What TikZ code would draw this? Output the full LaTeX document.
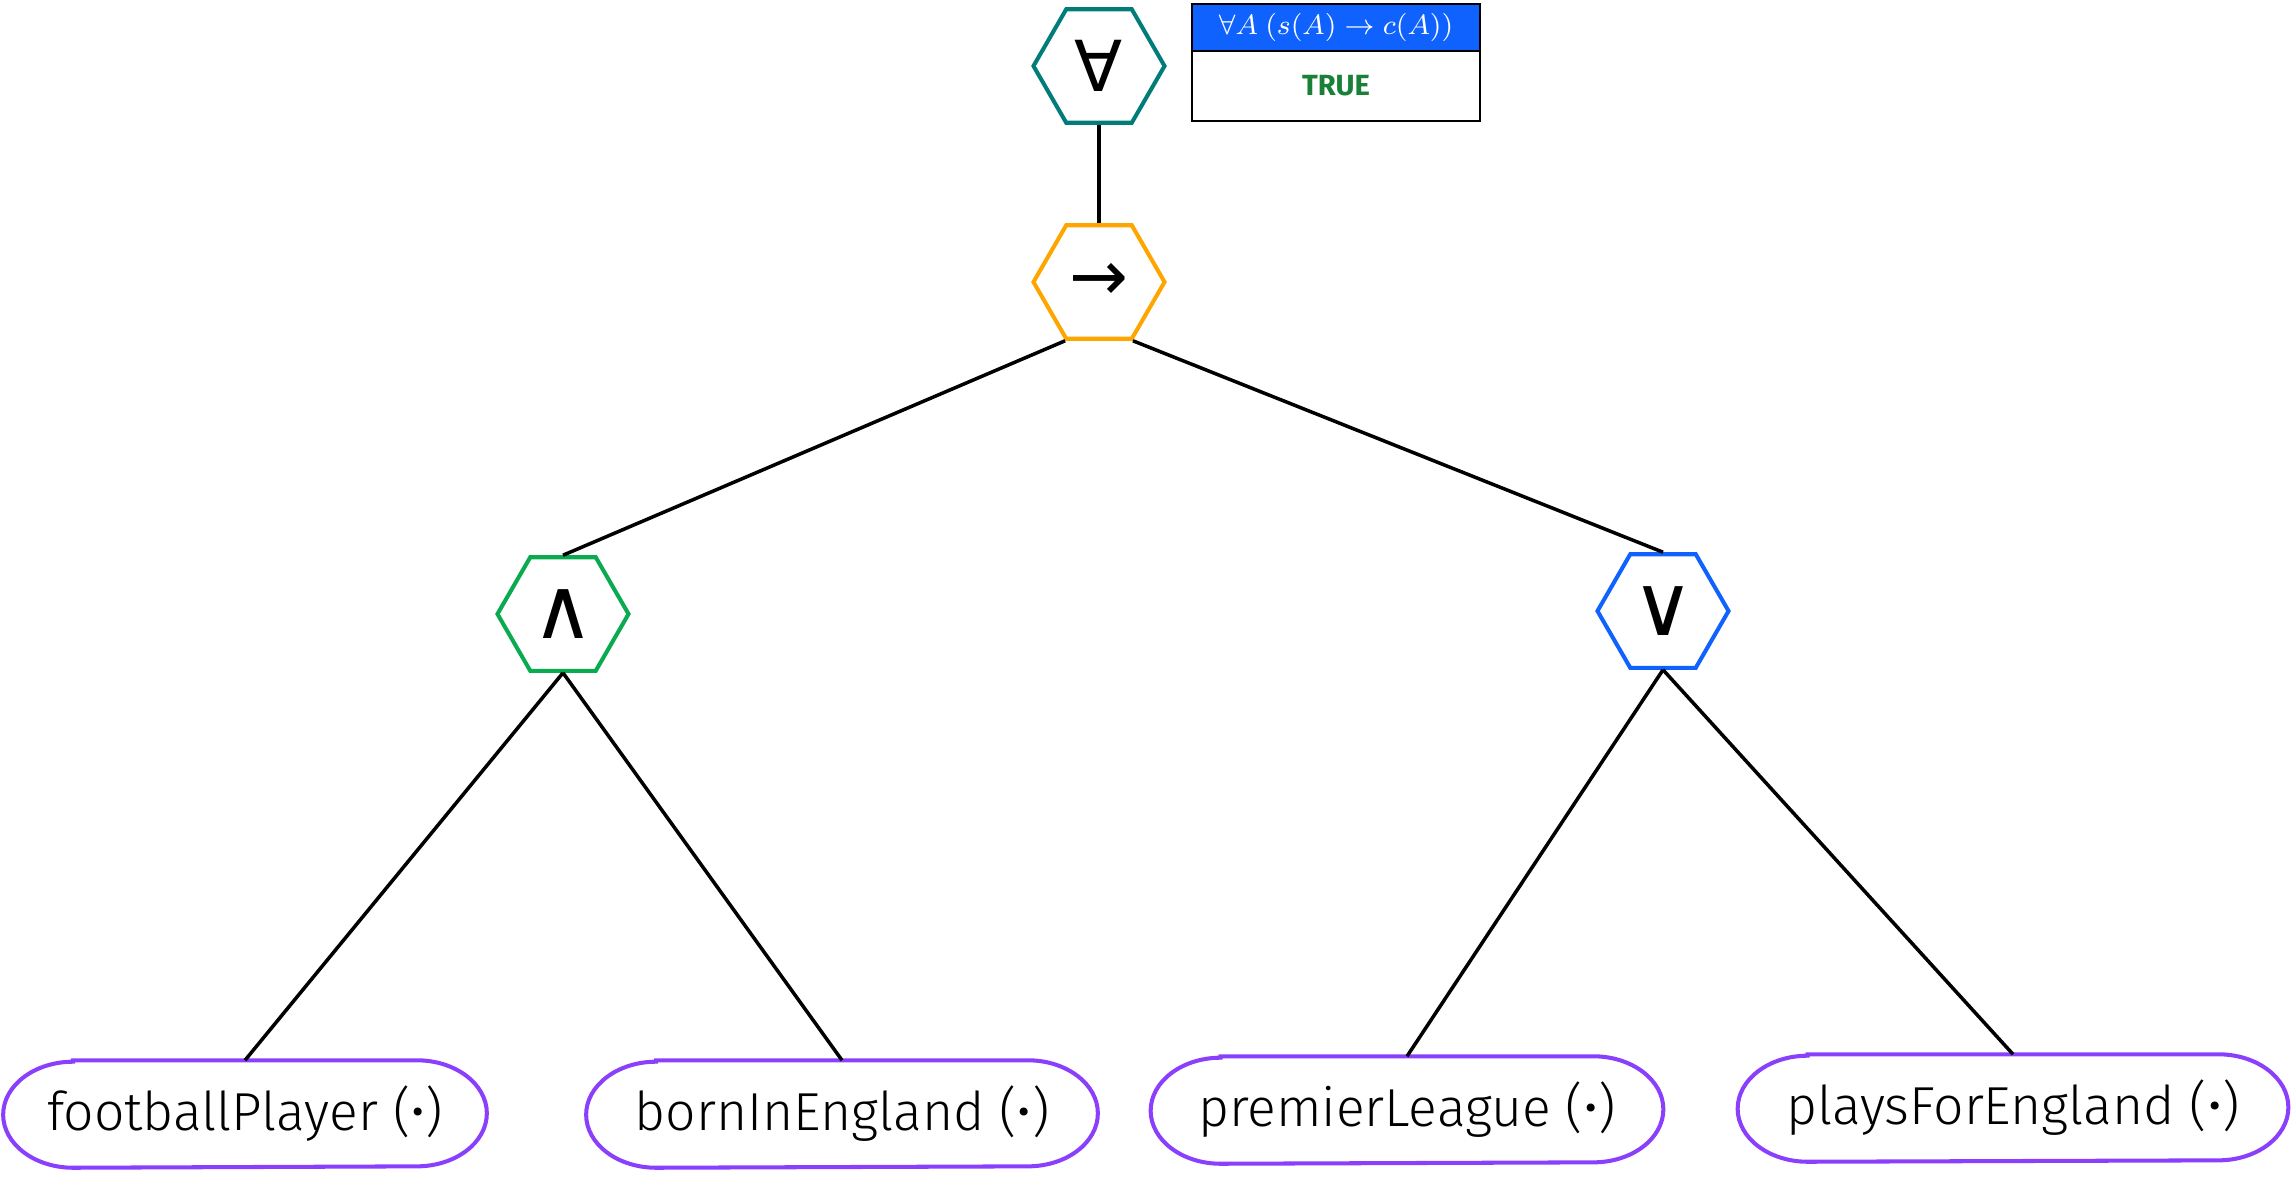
\documentclass[tikz,border=0pt]{standalone}
\usepackage{fontspec}
\setmainfont{Fira Sans}
\newfontfamily\leaffont{Fira Sans Light}
\newfontfamily\symfont{DejaVu Sans}
\usetikzlibrary{shapes.geometric}
\definecolor{hexteal}{HTML}{007D79}
\definecolor{hexorange}{HTML}{FFA500}
\definecolor{hexgreen}{HTML}{0AAA50}
\definecolor{hexblue}{HTML}{0F62FE}
\definecolor{leafpurple}{HTML}{8A3FFC}
\definecolor{truegreen}{HTML}{198038}
\tikzset{
  opnode/.style={regular polygon, regular polygon sides=6, draw=#1, line width=1.15pt,
    minimum size=1.31cm, inner sep=0pt},
  symlabel/.style={inner sep=0pt, font=\symfont\fontsize{#1}{#1}\selectfont},
  leaf/.style={minimum height=1.06cm, inner sep=0pt,
    font=\leaffont\fontsize{15.2}{17}\selectfont},
  leafline/.style={draw=leafpurple, line width=1.15pt},
  edge/.style={line width=1pt, black},
  tablecell/.style={draw=black, line width=0.6pt, minimum width=2.88cm, inner sep=0pt}
}
\begin{document}
\begin{tikzpicture}[x=0.01cm, y=-0.01cm]
  \useasboundingbox (0,0) rectangle (2291,1178);

  % operator nodes
  \node[opnode=hexteal,   label={[symlabel=20]center:∀}] (all) at (1099,66)  {};
  \node[opnode=hexorange, label={[symlabel=20]center:→}] (imp) at (1099,282) {};
  \node[opnode=hexgreen,  label={[symlabel=24]center:∧}] (and) at (563,614)  {};
  \node[opnode=hexblue,   label={[symlabel=24]center:∨}] (or)  at (1663,611) {};

  % predicate leaves
  \node[leaf, minimum width=4.82cm] (fp) at (245,1114)  {footballPlayer (•)};
  \node[leaf, minimum width=5.10cm] (be) at (842,1114)  {bornInEngland (•)};
  \node[leaf, minimum width=5.11cm] (pl) at (1407,1110) {premierLeague (•)};
  \node[leaf, minimum width=5.49cm] (pe) at (2013,1108) {playsForEngland (•)};

  % pill outlines with elliptical ends
  \foreach \n in {fp,be,pl,pe}{
    \draw[leafline] ([xshift=0.7cm]\n.north west) -- ([xshift=-0.7cm]\n.north east)
      arc[start angle=90, end angle=-90, x radius=0.7cm, y radius=0.53cm]
      -- ([xshift=0.7cm]\n.south west)
      arc[start angle=270, end angle=90, x radius=0.7cm, y radius=0.53cm] -- cycle;
  }

  % formula and its value
  \node[tablecell, fill=hexblue, minimum height=0.47cm, text=white,
        font=\fontsize{8}{9}\selectfont] (head) at (1336,27.5)
        {$\forall A\ (s(A) \rightarrow c(A))$};
  \node[tablecell, minimum height=0.70cm, text=truegreen,
        font=\bfseries\fontsize{8.3}{9}\selectfont] (val) at (1336,86) {TRUE};

  % tree edges
  \draw[edge] (all.south) -- (imp.north);
  \draw[edge] (imp.240) -- (and.north);
  \draw[edge] (imp.300) -- (or.north);
  \draw[edge] (and.south) -- (fp.north);
  \draw[edge] (and.south) -- (be.north);
  \draw[edge] (or.south) -- (pl.north);
  \draw[edge] (or.south) -- (pe.north);
\end{tikzpicture}
\end{document}
